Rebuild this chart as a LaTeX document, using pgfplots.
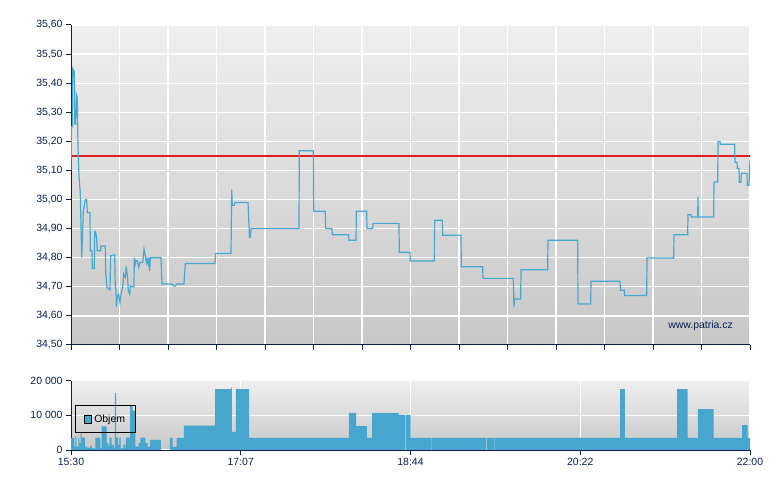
\documentclass[border=0pt]{standalone}
\usepackage{fontspec}
\setmainfont{Liberation Sans}
\usepackage{pgfplots}
\pgfplotsset{compat=1.18}

\definecolor{navy}{RGB}{10,30,80}
\definecolor{lineblue}{RGB}{72,168,208}
\definecolor{barblue}{RGB}{70,166,206}
\definecolor{refred}{RGB}{228,30,30}
\definecolor{bgtop}{RGB}{239,239,239}
\definecolor{bgbot}{RGB}{199,199,199}

\pgfplotsset{
  patria/.style={
    scale only axis,
    anchor=south west,
    xmin=0, xmax=390,
    axis x line*=bottom, axis y line*=left,
    axis line style={-, navy, line width=1bp},
    tick style={navy, line width=1bp},
    tick align=outside, major tick length=5bp,
    grid=major, major grid style={white, line width=1.3bp},
    ticklabel style={font=\fontsize{10.5}{12}\selectfont, text=navy},
    /pgf/number format/assume math mode=true,
    scaled ticks=false,
    axis background/.style={top color=bgtop, bottom color=bgbot},
  }
}

\begin{document}
\begin{tikzpicture}
\path[use as bounding box] (0,0) rectangle (780bp,490bp);

% price
\begin{axis}[patria,
  at={(71bp,145bp)}, width=679bp, height=320bp,
  ymin=34.5, ymax=35.6,
  xtick={0,27.857,55.714,83.571,111.429,139.286,167.143,195,222.857,250.714,278.571,306.429,334.286,362.143,390},
  xticklabels={},
  ytick={34.5,34.6,34.7,34.8,34.9,35.0,35.1,35.2,35.3,35.4,35.5,35.6},
  yticklabel style={/pgf/number format/.cd, fixed, fixed zerofill, precision=2, use comma},
]
\addplot[draw=refred, line width=1.6bp, mark=none] coordinates {(0,35.15) (390,35.15)};
\addplot[draw=lineblue, line width=1.2bp, mark=none] coordinates {
(0,35.10) (0.29,35.25) (0.86,35.25) (0.98,35.45) (1.90,35.44) (2.13,35.26) (2.70,35.26)
(3.16,35.36) (3.62,35.35) (4.02,35.18) (4.60,35.08) (5.34,35.02) (6.15,34.80) (7.06,34.956)
(8.21,35.00) (9.02,35.00) (9.36,34.955) (10.91,34.955) (11.09,34.824) (12.06,34.824)
(12.23,34.763) (13.38,34.763) (13.61,34.89) (14.19,34.888) (14.76,34.864) (15.11,34.824)
(17.06,34.824) (17.17,34.84) (19.70,34.84) (19.93,34.75) (20.68,34.698) (22.40,34.69)
(22.80,34.807) (25.10,34.81) (25.44,34.698) (25.85,34.69) (26.02,34.632) (26.82,34.67)
(27.40,34.675) (28.14,34.646) (28.89,34.68) (29.69,34.698) (30.27,34.744) (31.19,34.732)
(31.76,34.77) (32.57,34.726) (32.91,34.686) (33.72,34.675) (34.06,34.703) (35.04,34.70)
(36.19,34.70) (36.36,34.80) (36.93,34.778) (37.51,34.79) (38.08,34.79) (38.88,34.767)
(39.63,34.784) (41.18,34.784) (41.93,34.83) (42.68,34.807) (43.25,34.784) (43.65,34.795)
(44.23,34.778) (44.63,34.80) (45.20,34.755) (45.55,34.80) (51.69,34.80) (52.27,34.71)
(58.01,34.71) (58.76,34.703) (59.91,34.703) (60.71,34.71) (64.90,34.71) (65.65,34.78)
(82.71,34.78) (83.00,34.815) (91.90,34.815) (92.30,35.035) (92.65,34.98) (93.62,34.98)
(94.20,34.99) (101.66,34.99) (102.53,34.87) (102.98,34.87) (103.41,34.90) (130.96,34.90)
(131.13,35.168) (139.17,35.168) (139.40,34.96) (146.06,34.96) (146.29,34.90) (149.91,34.90)
(150.08,34.879) (159.50,34.879) (159.67,34.86) (163.70,34.86) (163.87,34.96) (169.84,34.96)
(170.01,34.90) (173.29,34.90) (173.46,34.918) (188.39,34.918) (188.56,34.819) (194.71,34.819)
(194.88,34.789) (208.66,34.789) (208.89,34.929) (213.26,34.929) (213.49,34.877) (224.00,34.877)
(224.17,34.769) (236.46,34.769) (236.63,34.729) (254.04,34.729) (254.45,34.63) (254.73,34.658)
(258.29,34.658) (258.47,34.759) (273.80,34.759) (273.97,34.86) (291.03,34.86) (291.20,34.641)
(298.50,34.641) (298.67,34.719) (315.33,34.719) (315.61,34.688) (317.80,34.688) (318.03,34.67)
(330.67,34.67) (330.84,34.799) (346.17,34.799) (346.35,34.879) (354.22,34.879) (354.39,34.948)
(356.11,34.948) (356.29,34.94) (359.96,34.94) (360.13,35.009) (360.31,34.94) (369.15,34.94)
(369.32,35.06) (371.45,35.06) (371.62,35.20) (372.77,35.20) (372.94,35.19) (381.21,35.19)
(381.38,35.128) (382.53,35.128) (382.70,35.107) (383.68,35.107) (383.85,35.059) (384.83,35.059)
(385.00,35.09) (388.27,35.09) (388.44,35.049) (389.42,35.049) (390,35.138)
};
\node[anchor=south east, text=navy, font=\fontsize{10.5}{12}\selectfont, inner sep=0pt]
  at (rel axis cs:0.975,0.045) {www.patria.cz};
\end{axis}

% volume
\begin{axis}[patria,
  at={(71bp,40bp)}, width=679bp, height=69.3bp,
  ymin=0, ymax=20000,
  xtick={0,97.5,195,292.5,390},
  xticklabels={15:30,17:07,18:44,20:22,22:00},
  ytick={0,10000,20000},
  yticklabels={0,10 000,20 000},
  legend style={at={(rel axis cs:0.0063,0.645)}, anchor=north west,
    draw=black, fill=none, line width=0.8bp, inner xsep=8.5bp, inner ysep=7bp,
    font=\fontsize{10.5}{12}\selectfont},
  legend image code/.code={\draw[#1, draw=black, line width=0.8bp] (0bp,-3.7bp) rectangle (7.3bp,3.7bp);},
]
\addplot[const plot, fill=barblue, draw=none] coordinates {
(0,3500) (1.90,1000) (2.47,4000) (3.04,1000) (4.19,3500) (4.77,2000) (5.57,5000) (6.15,3600)
(8.04,1000) (9.02,700) (11.09,1200) (12.06,500) (13.96,3600) (16.83,500) (17.63,6800)
(20.51,2000) (21.42,1200) (22.23,3600) (23.38,1500) (24.53,700) (25.27,16500) (25.85,3600)
(27.00,1500) (27.74,3600) (28.55,500) (30.04,1500) (31.02,700) (31.59,3600) (33.89,12700)
(35.44,11300) (36.93,1000) (38.88,2000) (39.80,3600) (42.68,2000) (44.05,1000) (45.38,2900)
(51.69,0) (56.86,3500) (58.41,900) (60.71,3500) (64.90,7000) (82.71,17600) (91.90,18000)
(92.47,5200) (94.77,17600) (102.24,3500) (159.67,10700) (163.70,6900) (170.01,3500)
(172.89,10700) (188.22,10100) (191.95,0) (192.30,10100) (195.11,3500) (206.66,0) (206.94,3500)
(238.36,0) (238.70,3500) (242.96,0) (243.30,3500) (315.33,17600) (318.20,3500) (348.07,17600)
(354.22,3500) (360.13,11800) (369.15,3500) (385.41,7200) (388.68,3500) (390,3500)
} \closedcycle;
\addlegendentry{Objem}
\draw[navy, line width=1bp] (rel axis cs:0,0) -- (rel axis cs:1,0);
\end{axis}
\end{tikzpicture}
\end{document}
